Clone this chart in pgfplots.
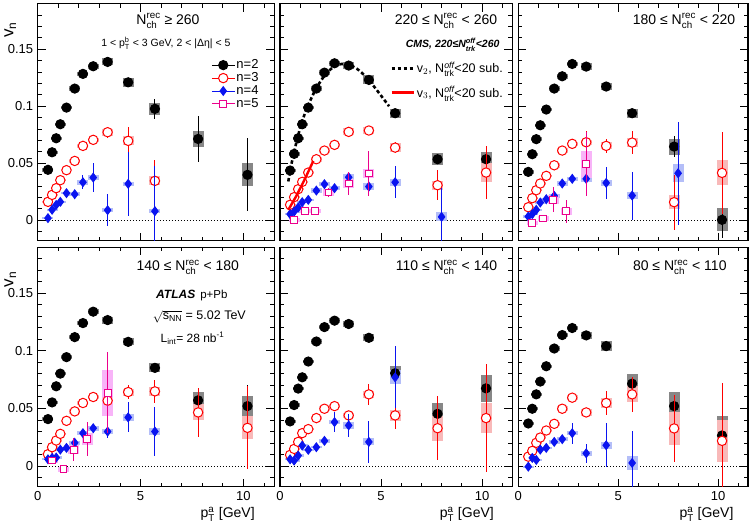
\documentclass[border=0pt]{standalone}
\usepackage{amsmath}
\usepackage{fontspec}
\setmainfont{Liberation Sans}
\usepackage{pgfplots}
\pgfplotsset{compat=1.18}
\usepackage{pgfplotstable}

\newcommand{\fs}[1]{\fontsize{#1}{#1}\selectfont}
\newcommand{\Nch}{N$^{\text{rec}}_{\text{ch}}$}

\definecolor{sysgray}{RGB}{135,135,135}
\definecolor{syspink}{RGB}{248,185,185}
\definecolor{sysblue}{RGB}{180,190,248}
\definecolor{sysmag}{RGB}{248,180,248}
\definecolor{datblue}{RGB}{10,20,240}

\pgfplotsset{
 panel/.style={scale only axis, anchor=south west,
   xmin=0, xmax=11.5, ymin=-0.018, ymax=0.19,
   xtick={0,5,10}, ytick={0,0.05,0.1,0.15},
   minor xtick={1,2,3,4,6,7,8,9,11},
   minor ytick={-0.01,0.01,0.02,0.03,0.04,0.06,0.07,0.08,0.09,0.11,0.12,0.13,0.14,0.16,0.17,0.18},
   major tick length=8pt, minor tick length=4pt,
   every tick/.style={black, line width=0.8pt},
   axis line style={line width=1.1pt},
   tick label style={font=\fs{13}},
   /pgf/number format/assume math mode=true,
   yticklabel style={/pgf/number format/fixed, /pgf/number format/precision=2, xshift=-1pt},
   xticklabel style={yshift=-1pt},
   clip mode=individual,
 },
 sys/.style={only marks, mark=none, forget plot, error bars/.cd, y dir=both, y explicit, error mark=none, error bar style={line width=11pt, draw=#1}},
 dat/.style n args={4}{only marks, forget plot, color=#1, mark=#2, mark size=#3, mark options={solid, line width=1pt, #4}, error bars/.cd, y dir=both, y explicit, error mark=none, error bar style={line width=1pt, color=#1}},
 m2/.style={dat={black}{*}{4.6pt}{}},
 m3/.style={dat={red}{*}{4.7pt}{fill=white, draw=red}},
 m4/.style={dat={datblue}{diamond*}{4.3pt}{}},
 m5/.style={dat={magenta}{square*}{3.4pt}{fill=white, draw=magenta}},
 zl/.style={forget plot, black, line width=0.7pt, dash pattern=on 1pt off 2pt, mark=none},
}

% ---------------- Panel A: N >= 260 ----------------
\pgfplotstableread{
x y stat sys
0.5 0.0442 0.001 0.0015
0.7 0.0596 0.001 0.0015
0.9 0.0719 0.001 0.0015
1.1 0.0842 0.001 0.0015
1.4 0.0988 0.001 0.0015
1.8 0.1155 0.001 0.002
2.2 0.1284 0.001 0.002
2.7 0.1351 0.001 0.002
3.4 0.1389 0.002 0.003
4.4 0.1210 0.004 0.004
5.7 0.0977 0.009 0.005
7.8 0.0713 0.020 0.007
10.2 0.0398 0.032 0.010
}\Atwo
\pgfplotstableread{
x y stat sys
0.5 0.0161 0.001 0.001
0.7 0.0222 0.001 0.001
0.9 0.0281 0.001 0.001
1.1 0.0351 0.001 0.001
1.4 0.0439 0.001 0.001
1.8 0.0520 0.001 0.002
2.2 0.0652 0.002 0.002
2.7 0.0705 0.003 0.002
3.4 0.0772 0.005 0.003
4.4 0.0696 0.012 0.004
5.7 0.0345 0.018 0.004
}\Athree
\pgfplotstableread{
x y stat sys
0.5 0.0018 0.001 0.001
0.7 0.0091 0.002 0.001
0.9 0.0134 0.002 0.001
1.1 0.0161 0.002 0.001
1.4 0.0237 0.003 0.001
1.8 0.0228 0.004 0.002
2.2 0.0333 0.006 0.002
2.7 0.0374 0.013 0.002
3.4 0.0088 0.014 0.002
4.4 0.0319 0.028 0.002
5.7 0.0079 0.040 0.002
}\Afour

% ---------------- Panel B: 220-260 ----------------
\pgfplotstableread{
x y stat sys
0.5 0.0436 0.001 0.0015
0.7 0.0582 0.001 0.0015
0.9 0.0719 0.001 0.0015
1.1 0.0842 0.001 0.0015
1.4 0.0988 0.001 0.0015
1.8 0.1155 0.001 0.002
2.2 0.1295 0.001 0.002
2.7 0.1377 0.001 0.002
3.4 0.1357 0.002 0.003
4.4 0.1231 0.003 0.004
5.7 0.0939 0.003 0.004
7.8 0.0535 0.004 0.0055
10.2 0.0535 0.005 0.0065
}\Btwo
\pgfplotstableread{
x y stat sys
0.5 0.0135 0.001 0.001
0.7 0.0202 0.001 0.001
0.9 0.0272 0.001 0.001
1.1 0.0336 0.001 0.001
1.4 0.0418 0.001 0.001
1.8 0.0535 0.001 0.002
2.2 0.0611 0.001 0.002
2.7 0.0661 0.002 0.002
3.4 0.0775 0.002 0.003
4.4 0.0787 0.003 0.003
5.7 0.0637 0.005 0.004
7.8 0.0307 0.013 0.004
10.2 0.0418 0.023 0.008
}\Bthree
\pgfplotstableread{
x y stat sys
0.5 0.0053 0.001 0.001
0.7 0.0076 0.001 0.001
0.9 0.0111 0.001 0.001
1.1 0.0158 0.001 0.001
1.4 0.0178 0.001 0.001
1.8 0.0260 0.001 0.002
2.2 0.0316 0.002 0.002
2.7 0.0281 0.003 0.002
3.4 0.0377 0.004 0.003
4.4 0.0295 0.004 0.003
5.7 0.0333 0.014 0.003
8.0 0.0029 0.025 0.004
}\Bfour
\pgfplotstableread{
x y stat sys
0.7 0.0003 0.002 0.002
1.25 0.0079 0.002 0.002
1.75 0.0079 0.002 0.002
2.4 0.0243 0.004 0.003
3.4 0.0322 0.010 0.004
4.4 0.0409 0.020 0.004
}\Bfive

% ---------------- Panel C: 180-220 ----------------
\pgfplotstableread{
x y stat sys
0.5 0.0424 0.001 0.0015
0.7 0.0579 0.001 0.0015
0.9 0.0711 0.001 0.0015
1.1 0.0833 0.001 0.0015
1.4 0.0971 0.001 0.0015
1.8 0.1155 0.001 0.002
2.2 0.1263 0.001 0.002
2.7 0.1371 0.001 0.002
3.4 0.1348 0.002 0.003
4.4 0.1173 0.003 0.003
5.7 0.0939 0.003 0.004
7.8 0.0646 0.009 0.007
10.2 0.0003 0.016 0.010
}\Ctwo
\pgfplotstableread{
x y stat sys
0.5 0.0114 0.001 0.001
0.7 0.0193 0.001 0.001
0.9 0.0263 0.001 0.001
1.1 0.0322 0.001 0.001
1.4 0.0389 0.001 0.001
1.8 0.0482 0.001 0.002
2.2 0.0611 0.001 0.002
2.7 0.0670 0.002 0.002
3.4 0.0684 0.010 0.002
4.4 0.0652 0.006 0.003
5.7 0.0681 0.010 0.004
7.8 0.0158 0.024 0.006
10.2 0.0415 0.036 0.011
}\Cthree
\pgfplotstableread{
x y stat sys
0.5 0.0032 0.001 0.001
0.7 0.0053 0.001 0.001
0.9 0.0091 0.001 0.001
1.1 0.0155 0.001 0.001
1.4 0.0184 0.001 0.001
1.8 0.0213 0.001 0.002
2.2 0.0322 0.003 0.002
2.7 0.0363 0.004 0.002
3.4 0.0363 0.002 0.003
4.4 0.0327 0.014 0.003
5.7 0.0216 0.021 0.003
8.0 0.0412 0.045 0.008
}\Cfour
\pgfplotstableread{
x y stat sys
0.7 -0.0026 0.002 0.002
1.25 0.0015 0.003 0.002
1.75 0.0178 0.011 0.004
2.4 0.0079 0.010 0.003
3.4 0.0491 0.028 0.012
}\Cfive

% ---------------- Panel D: 140-180 ----------------
\pgfplotstableread{
x y stat sys
0.5 0.0407 0.001 0.0015
0.7 0.0552 0.001 0.0015
0.9 0.0692 0.001 0.0015
1.1 0.0802 0.001 0.0015
1.4 0.0945 0.001 0.0015
1.8 0.1119 0.001 0.002
2.2 0.1241 0.001 0.002
2.7 0.1340 0.001 0.002
3.4 0.1267 0.002 0.003
4.4 0.1078 0.002 0.003
5.7 0.0852 0.003 0.004
7.8 0.0570 0.011 0.007
10.2 0.0520 0.018 0.009
}\Dtwo
\pgfplotstableread{
x y stat sys
0.5 0.0102 0.001 0.001
0.7 0.0163 0.001 0.001
0.9 0.0221 0.001 0.001
1.1 0.0279 0.001 0.001
1.4 0.0392 0.001 0.001
1.8 0.0474 0.001 0.002
2.2 0.0547 0.001 0.002
2.7 0.0599 0.002 0.002
3.4 0.0567 0.005 0.003
4.4 0.0642 0.006 0.003
5.7 0.0648 0.010 0.004
7.8 0.0465 0.021 0.007
10.2 0.0331 0.036 0.010
}\Dthree
\pgfplotstableread{
x y stat sys
0.5 0.0058 0.001 0.001
0.7 0.0070 0.001 0.001
0.9 0.0073 0.001 0.001
1.1 0.0142 0.001 0.001
1.4 0.0157 0.001 0.001
1.8 0.0201 0.002 0.002
2.2 0.0285 0.002 0.002
2.7 0.0328 0.004 0.002
3.4 0.0299 0.006 0.002
4.4 0.0422 0.013 0.003
5.7 0.0299 0.021 0.003
}\Dfour
\pgfplotstableread{
x y stat sys
0.7 0.0047 0.003 0.002
1.25 -0.0029 0.003 0.002
1.75 0.0140 0.010 0.004
2.4 0.0233 0.015 0.005
3.4 0.0637 0.035 0.020
}\Dfive

% ---------------- Panel E: 110-140 ----------------
\pgfplotstableread{
x y stat sys
0.5 0.0387 0.001 0.0015
0.7 0.0529 0.001 0.0015
0.9 0.0672 0.001 0.0015
1.1 0.0770 0.001 0.0015
1.4 0.0907 0.001 0.0015
1.8 0.1081 0.001 0.002
2.2 0.1206 0.001 0.002
2.7 0.1262 0.001 0.002
3.4 0.1233 0.002 0.003
4.4 0.1113 0.002 0.003
5.7 0.0805 0.004 0.006
7.8 0.0453 0.008 0.009
10.2 0.0674 0.020 0.012
}\Etwo
\pgfplotstableread{
x y stat sys
0.5 0.0096 0.001 0.001
0.7 0.0148 0.001 0.001
0.9 0.0209 0.001 0.001
1.1 0.0285 0.001 0.001
1.4 0.0320 0.001 0.001
1.8 0.0416 0.001 0.002
2.2 0.0497 0.001 0.002
2.7 0.0520 0.002 0.002
3.4 0.0439 0.004 0.002
4.4 0.0622 0.009 0.003
5.7 0.0439 0.012 0.005
7.8 0.0328 0.028 0.011
10.2 0.0416 0.047 0.013
}\Ethree
\pgfplotstableread{
x y stat sys
0.5 0.0058 0.001 0.001
0.7 0.0047 0.001 0.001
0.9 0.0090 0.001 0.001
1.1 0.0177 0.001 0.001
1.4 0.0140 0.001 0.001
1.8 0.0163 0.002 0.001
2.2 0.0218 0.003 0.002
2.7 0.0381 0.009 0.002
3.4 0.0352 0.010 0.003
4.4 0.0209 0.018 0.003
5.7 0.0770 0.027 0.006
}\Efour

% ---------------- Panel F: 80-110 ----------------
\pgfplotstableread{
x y stat sys
0.5 0.0369 0.001 0.0015
0.7 0.0497 0.001 0.0015
0.9 0.0622 0.001 0.0015
1.1 0.0733 0.001 0.0015
1.4 0.0866 0.001 0.0015
1.8 0.1020 0.001 0.002
2.2 0.1137 0.001 0.002
2.7 0.1198 0.001 0.002
3.4 0.1134 0.002 0.003
4.4 0.1041 0.002 0.004
5.7 0.0715 0.004 0.008
7.8 0.0520 0.005 0.012
10.2 0.0265 0.020 0.017
}\Ftwo
\pgfplotstableread{
x y stat sys
0.5 0.0081 0.001 0.001
0.7 0.0131 0.001 0.001
0.9 0.0201 0.001 0.001
1.1 0.0247 0.001 0.001
1.4 0.0308 0.001 0.001
1.8 0.0366 0.001 0.002
2.2 0.0497 0.002 0.002
2.7 0.0593 0.002 0.002
3.4 0.0465 0.003 0.003
4.4 0.0547 0.010 0.004
5.7 0.0622 0.015 0.007
7.8 0.0326 0.029 0.014
10.2 0.0218 0.050 0.018
}\Fthree
\pgfplotstableread{
x y stat sys
0.5 -0.0006 0.001 0.001
0.7 0.0070 0.001 0.001
0.9 0.0052 0.001 0.001
1.1 0.0142 0.001 0.001
1.4 0.0157 0.001 0.001
1.8 0.0209 0.002 0.002
2.2 0.0233 0.003 0.002
2.7 0.0285 0.009 0.002
3.4 0.0110 0.008 0.002
4.4 0.0180 0.019 0.003
5.7 0.0026 0.028 0.006
}\Ffour

\begin{document}
\begin{tikzpicture}
\useasboundingbox (0pt,0pt) rectangle (750pt,527pt);

% ===== Panel A (top left) =====
\begin{axis}[panel, at={(37.7pt,286.3pt)}, width=236.5pt, height=237pt, xticklabels={},
  legend image code/.code={\draw[#1, mark repeat=2, mark phase=2] plot coordinates {(0pt,0pt) (11.5pt,0pt) (23pt,0pt)};},
  legend style={draw=none, fill=none, at={(0.733,0.769)}, anchor=north west, font=\fs{13}, row sep=0pt, inner sep=0pt, nodes={inner sep=1.2pt}},
  legend cell align=left]
\addlegendimage{black, line width=1pt, mark=*, mark size=4.6pt, mark options={solid}}
\addlegendentry{n=2}
\addlegendimage{red, line width=1pt, mark=*, mark size=4.7pt, mark options={solid, fill=white}}
\addlegendentry{n=3}
\addlegendimage{datblue, line width=1pt, mark=diamond*, mark size=4.3pt, mark options={solid}}
\addlegendentry{n=4}
\addlegendimage{magenta, line width=1pt, mark=square*, mark size=3.4pt, mark options={solid, fill=white}}
\addlegendentry{n=5}
\addplot[zl] coordinates {(0.4,0) (11.5,0)};
\addplot[sys=sysgray] table[y error index=3] {\Atwo};
\addplot[sys=syspink] table[y error index=3] {\Athree};
\addplot[sys=sysblue] table[y error index=3] {\Afour};
\addplot[m2] table[y error index=2] {\Atwo};
\addplot[m3] table[y error index=2] {\Athree};
\addplot[m4] table[y error index=2] {\Afour};
\node[font=\fs{14}] at (rel axis cs:0.551,0.927) {\Nch\ ≥ 260};
\node[font=\fs{10.5}] at (rel axis cs:0.542,0.834) {1 < p$^{\text{b}}_{\text{T}}$ < 3 GeV, 2 < |Δη| < 5};
\node[rotate=90, font=\fs{17}] at (rel axis cs:-0.116,0.89) {v$_{\text{n}}$};
\end{axis}

% ===== Panel B (top middle) =====
\begin{axis}[panel, at={(280pt,286.3pt)}, width=232.3pt, height=237pt, xticklabels={}, yticklabels={},
  legend image code/.code={\draw[#1] (0pt,0pt) -- (22pt,0pt);},
  legend style={draw=none, fill=none, at={(0.474,0.762)}, anchor=north west, font=\fs{12.5}, row sep=8pt, inner sep=0pt},
  legend cell align=left]
\addlegendimage{black, line width=2.6pt, dash pattern=on 3.5pt off 2.5pt}
\addlegendentry{v$_{2}$, N$^{\textit{off}}_{\text{trk}}$<20 sub.}
\addlegendimage{red, line width=2.4pt}
\addlegendentry{v$_{3}$, N$^{\textit{off}}_{\text{trk}}$<20 sub.}
\addplot[zl] coordinates {(0.4,0) (11.5,0)};
\addplot[sys=sysgray] table[y error index=3] {\Btwo};
\addplot[sys=syspink] table[y error index=3] {\Bthree};
\addplot[sys=sysblue] table[y error index=3] {\Bfour};
\addplot[sys=sysmag] table[y error index=3] {\Bfive};
\addplot[m2] table[y error index=2] {\Btwo};
\addplot[m3] table[y error index=2] {\Bthree};
\addplot[m4] table[y error index=2] {\Bfour};
\addplot[m5] table[y error index=2] {\Bfive};
\addplot[forget plot, black, line width=2.6pt, dash pattern=on 3.5pt off 2.5pt, smooth, mark=none] coordinates {
 (0.41,0.034) (0.6,0.052) (0.85,0.071) (1.1,0.087) (1.4,0.101) (1.8,0.116) (2.3,0.129) (2.8,0.136) (3.3,0.137) (3.8,0.133) (4.3,0.125) (4.8,0.114) (5.4,0.100)};
\addplot[forget plot, red, line width=2.4pt, mark=none] coordinates {
 (0.41,0.009) (0.8,0.021) (1.2,0.035) (1.65,0.052)};
\node[anchor=east, font=\fs{14}] at (rel axis cs:0.95,0.927) {220 ≤ \Nch\ < 260};
\node[anchor=east, font=\fs{10.5}\bfseries\itshape] at (rel axis cs:0.96,0.826) {CMS, 220≤N$^{\text{off}}_{\text{trk}}$<260};
\end{axis}

% ===== Panel C (top right) =====
\begin{axis}[panel, at={(518.3pt,286.3pt)}, width=229.7pt, height=237pt, xticklabels={}, yticklabels={}]
\addplot[zl] coordinates {(0.4,0) (11.5,0)};
\addplot[sys=sysgray] table[y error index=3] {\Ctwo};
\addplot[sys=syspink] table[y error index=3] {\Cthree};
\addplot[sys=sysblue] table[y error index=3] {\Cfour};
\addplot[sys=sysmag] table[y error index=3] {\Cfive};
\addplot[m2] table[y error index=2] {\Ctwo};
\addplot[m3] table[y error index=2] {\Cthree};
\addplot[m4] table[y error index=2] {\Cfour};
\addplot[m5] table[y error index=2] {\Cfive};
\node[anchor=east, font=\fs{14}] at (rel axis cs:0.96,0.927) {180 ≤ \Nch\ < 220};
\end{axis}

% ===== Panel D (bottom left) =====
\begin{axis}[panel, at={(37.7pt,40.3pt)}, width=236.5pt, height=239.5pt]
\addplot[zl] coordinates {(0.4,0) (11.5,0)};
\addplot[sys=sysgray] table[y error index=3] {\Dtwo};
\addplot[sys=syspink] table[y error index=3] {\Dthree};
\addplot[sys=sysblue] table[y error index=3] {\Dfour};
\addplot[sys=sysmag] table[y error index=3] {\Dfive};
\addplot[m2] table[y error index=2] {\Dtwo};
\addplot[m3] table[y error index=2] {\Dthree};
\addplot[m4] table[y error index=2] {\Dfour};
\addplot[m5] table[y error index=2] {\Dfive};
\node[anchor=east, font=\fs{14}] at (rel axis cs:0.866,0.916) {140 ≤ \Nch\ < 180};
\node[anchor=west, font=\fs{11.5}] at (rel axis cs:0.486,0.80) {{\fs{12}\bfseries\itshape ATLAS}\hspace{5pt}p+Pb};
\node[anchor=west, font=\fs{12.5}] at (rel axis cs:0.472,0.71) {$\sqrt{\text{s}_{\text{NN}}}$ = 5.02 TeV};
\node[anchor=west, font=\fs{12}] at (rel axis cs:0.505,0.62) {L$_{\text{int}}$= 28 nb$^{\text{-1}}$};
\node[rotate=90, font=\fs{17}] at (rel axis cs:-0.116,0.865) {v$_{\text{n}}$};
\node[anchor=east, font=\fs{14}, xshift=-16pt, yshift=-28pt] at (rel axis cs:1,0) {p$^{\text{a}}_{\text{T}}$ [GeV]};
\end{axis}

% ===== Panel E (bottom middle) =====
\begin{axis}[panel, at={(280pt,40.3pt)}, width=232.3pt, height=239.5pt, yticklabels={}]
\addplot[zl] coordinates {(0.4,0) (11.5,0)};
\addplot[sys=sysgray] table[y error index=3] {\Etwo};
\addplot[sys=syspink] table[y error index=3] {\Ethree};
\addplot[sys=sysblue] table[y error index=3] {\Efour};
\addplot[m2] table[y error index=2] {\Etwo};
\addplot[m3] table[y error index=2] {\Ethree};
\addplot[m4] table[y error index=2] {\Efour};
\node[anchor=east, font=\fs{14}] at (rel axis cs:0.95,0.916) {110 ≤ \Nch\ < 140};
\node[anchor=east, font=\fs{14}, xshift=-15pt, yshift=-28pt] at (rel axis cs:1,0) {p$^{\text{a}}_{\text{T}}$ [GeV]};
\end{axis}

% ===== Panel F (bottom right) =====
\begin{axis}[panel, at={(518.3pt,40.3pt)}, width=229.7pt, height=239.5pt, yticklabels={}]
\addplot[zl] coordinates {(0.4,0) (11.5,0)};
\addplot[sys=sysgray] table[y error index=3] {\Ftwo};
\addplot[sys=syspink] table[y error index=3] {\Fthree};
\addplot[sys=sysblue] table[y error index=3] {\Ffour};
\addplot[m2] table[y error index=2] {\Ftwo};
\addplot[m3] table[y error index=2] {\Fthree};
\addplot[m4] table[y error index=2] {\Ffour};
\node[anchor=east, font=\fs{14}] at (rel axis cs:0.922,0.916) {80 ≤ \Nch\ < 110};
\node[anchor=east, font=\fs{14}, xshift=-11pt, yshift=-28pt] at (rel axis cs:1,0) {p$^{\text{a}}_{\text{T}}$ [GeV]};
\end{axis}
\end{tikzpicture}
\end{document}
